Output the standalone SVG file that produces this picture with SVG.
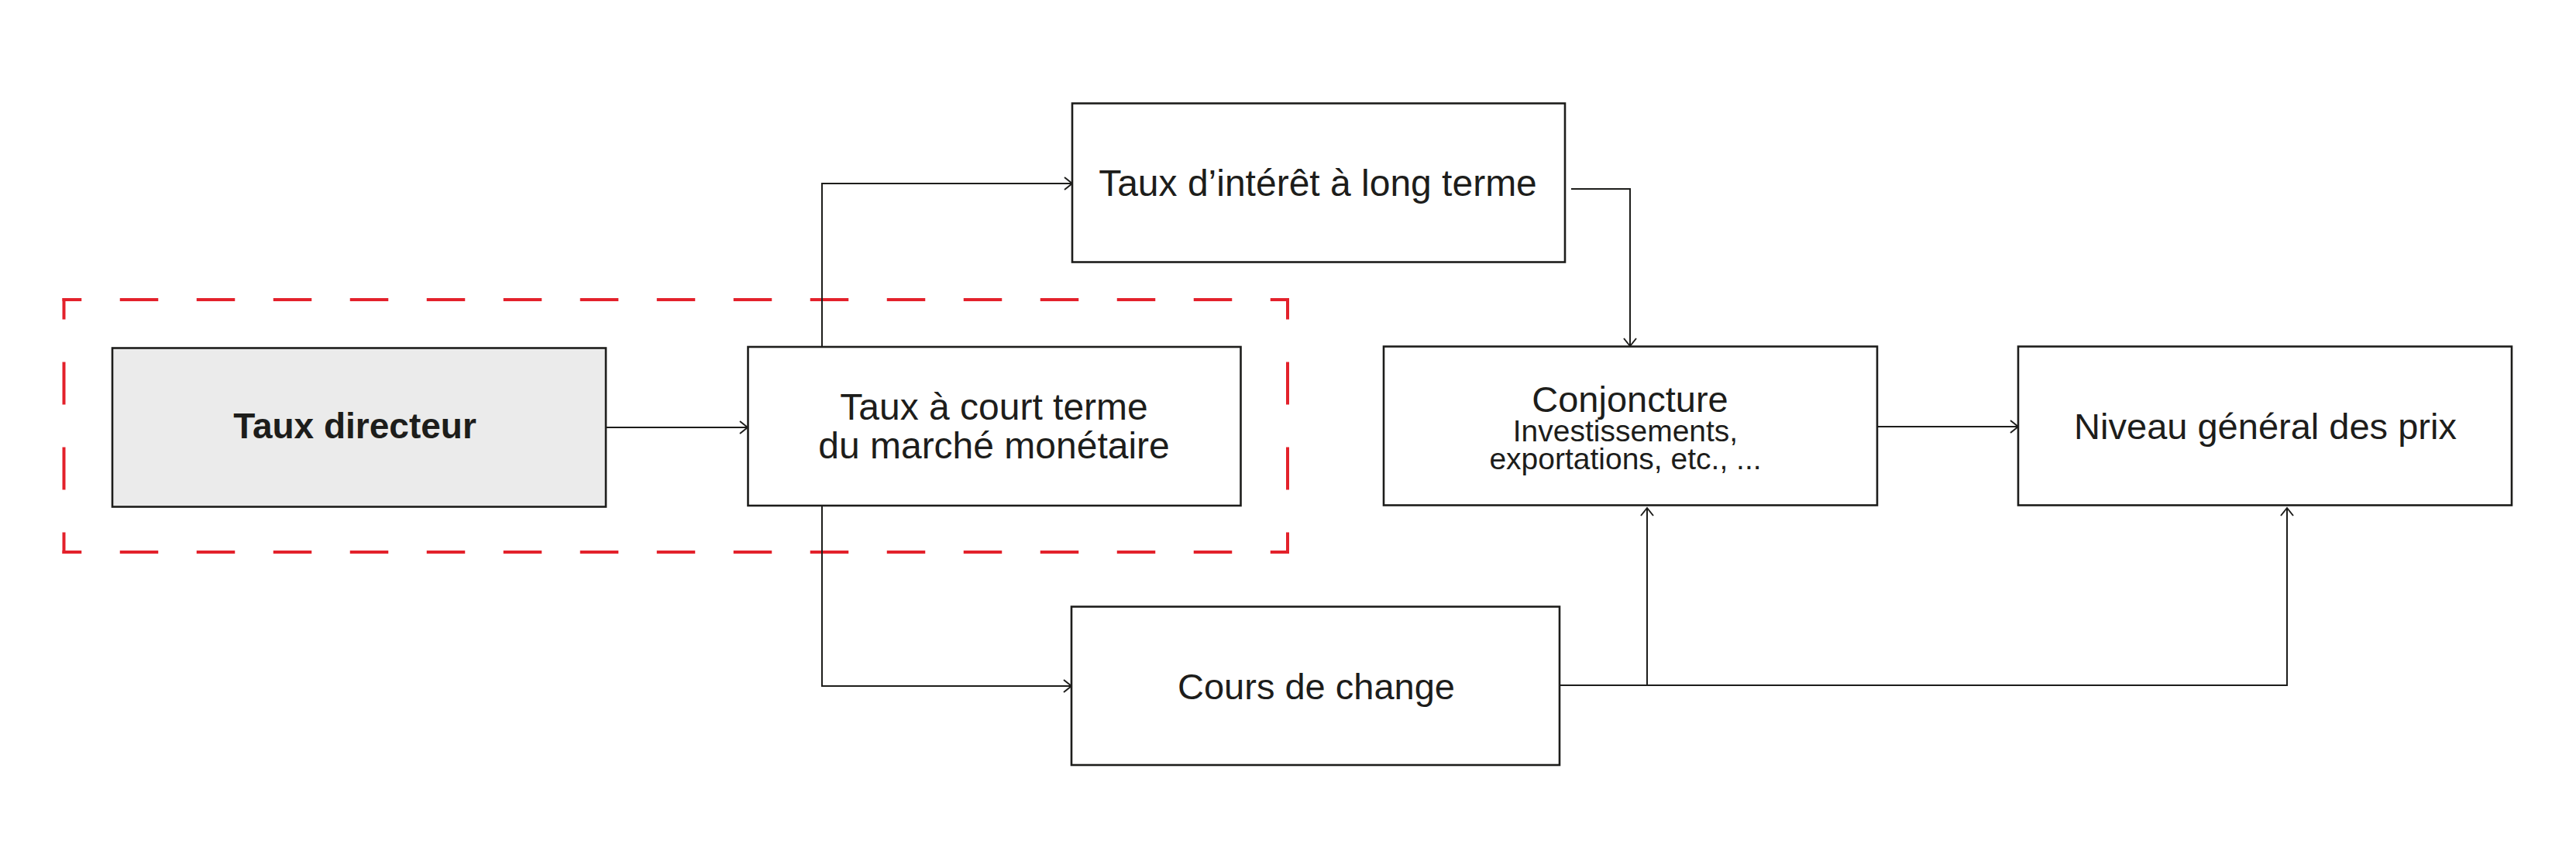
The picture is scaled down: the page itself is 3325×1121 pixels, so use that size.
<svg xmlns="http://www.w3.org/2000/svg" width="3325" height="1121" viewBox="0 0 3325 1121">
  <style>
    .box { fill: #ffffff; stroke: #1d1d1b; stroke-width: 2.6; }
    .boxgrey { fill: #ebebeb; stroke: #1d1d1b; stroke-width: 2.6; }
    .lbl { font-family: "Liberation Sans", Arial, sans-serif; font-size: 48px; fill: #1d1d1b; text-anchor: middle; }
    .bold { font-weight: bold; font-size: 46px; }
    .small { font-size: 39px; }
    .conn { fill: none; stroke: #1d1d1b; stroke-width: 2; }
    .red { fill: none; stroke: #e3212b; stroke-width: 4; }
  </style>
  <defs>
    <marker id="arr" markerUnits="userSpaceOnUse" markerWidth="24" markerHeight="24" viewBox="-12 -12 24 24" refX="0" refY="0" orient="auto">
      <path d="M -10 -8 L 0 0 L -10 8" fill="none" stroke="#1d1d1b" stroke-width="2"/>
    </marker>
  </defs>
  <rect width="3325" height="1121" fill="#ffffff"/>

  <g id="highlight">
    <line class="red" x1="80.5" y1="387" x2="1664" y2="387" stroke-dasharray="49.5 49.5" stroke-dashoffset="24.75"/>
    <line class="red" x1="80.5" y1="713" x2="1664" y2="713" stroke-dasharray="49.5 49.5" stroke-dashoffset="24.75"/>
    <line class="red" x1="82.5" y1="385" x2="82.5" y2="715" stroke-dasharray="55 55" stroke-dashoffset="27.5"/>
    <line class="red" x1="1662" y1="385" x2="1662" y2="715" stroke-dasharray="55 55" stroke-dashoffset="27.5"/>
  </g>

  <g id="connectors">
    <path class="conn" d="M 782 552 H 965" marker-end="url(#arr)"/>
    <path class="conn" d="M 1061 448 V 237 H 1384" marker-end="url(#arr)"/>
    <path class="conn" d="M 1061 653 V 886 H 1383" marker-end="url(#arr)"/>
    <path class="conn" d="M 2028 244 H 2104 V 447" marker-end="url(#arr)"/>
    <path class="conn" d="M 2423 551 H 2605" marker-end="url(#arr)"/>
    <path class="conn" d="M 2013 885 H 2952 V 656" marker-end="url(#arr)"/>
    <path class="conn" d="M 2126 885 V 656" marker-end="url(#arr)"/>
  </g>

  <g id="taux-directeur">
    <rect class="boxgrey" x="145" y="449.5" width="637" height="205"/>
    <text class="lbl bold" x="458" y="566">Taux directeur</text>
  </g>

  <g id="taux-court-terme">
    <rect class="box" x="965.5" y="448" width="636" height="205"/>
    <text class="lbl" x="1283" y="541.5">Taux à court terme</text>
    <text class="lbl" x="1283" y="591.5">du marché monétaire</text>
  </g>

  <g id="taux-long-terme">
    <rect class="box" x="1384" y="133.5" width="636" height="205"/>
    <text class="lbl" x="1701" y="253">Taux d’intérêt à long terme</text>
  </g>

  <g id="conjoncture">
    <rect class="box" x="1786" y="447.5" width="637" height="205"/>
    <text class="lbl" x="2104" y="532" style="font-size:47px">Conjoncture</text>
    <text class="lbl small" x="2098" y="570">Investissements,</text>
    <text class="lbl small" x="2098" y="606">exportations, etc., ...</text>
  </g>

  <g id="niveau-prix">
    <rect class="box" x="2605" y="447.5" width="637" height="205"/>
    <text class="lbl" x="2924" y="567" style="font-size:47px">Niveau général des prix</text>
  </g>

  <g id="cours-change">
    <rect class="box" x="1383" y="783.5" width="630" height="204.5"/>
    <text class="lbl" x="1699" y="903" style="font-size:47px">Cours de change</text>
  </g>
</svg>
